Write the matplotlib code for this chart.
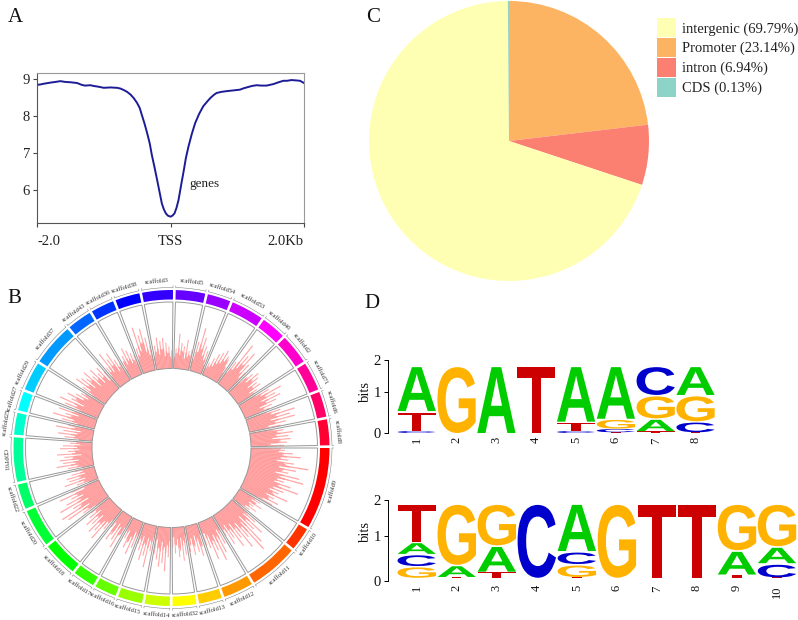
"""Four panel figure: TSS profile, circos track, feature pie and motif logos."""

import colorsys

import matplotlib

matplotlib.use("Agg")

import matplotlib.pyplot as plt
import numpy as np
from matplotlib.font_manager import FontProperties
from matplotlib.patches import PathPatch
from matplotlib.text import TextPath
from matplotlib.transforms import Affine2D

W, H = 798, 620

plt.rcParams["font.family"] = ["Liberation Serif", "DejaVu Serif"]

# panel A: profile around the TSS
profile_x = [-2.0, -1.95, -1.9, -1.8, -1.72, -1.65, -1.58, -1.5, -1.4, -1.33, -1.28, -1.2, -1.15, -1.08,
             -1.0, -0.9, -0.8, -0.75, -0.7, -0.65, -0.6, -0.55, -0.5, -0.46, -0.43, -0.39, -0.35, -0.31,
             -0.28, -0.24, -0.2, -0.16, -0.13, -0.1, -0.07, -0.04, 0.0, 0.03, 0.06, 0.09, 0.12, 0.16,
             0.2, 0.23, 0.27, 0.32, 0.37, 0.43, 0.49, 0.55, 0.6, 0.65, 0.69, 0.76, 0.84, 0.94, 1.04,
             1.1, 1.16, 1.22, 1.29, 1.36, 1.44, 1.54, 1.62, 1.69, 1.75, 1.81, 1.88, 1.94, 2.0]
profile_y = [8.84, 8.85, 8.87, 8.90, 8.92, 8.94, 8.92, 8.91, 8.89, 8.84, 8.82, 8.83, 8.81, 8.79,
             8.76, 8.77, 8.76, 8.74, 8.70, 8.65, 8.58, 8.48, 8.35, 8.21, 8.03, 7.80, 7.54, 7.25,
             6.95, 6.62, 6.27, 5.91, 5.64, 5.48, 5.37, 5.31, 5.28, 5.31, 5.37, 5.52, 5.73, 6.14,
             6.54, 6.86, 7.18, 7.52, 7.81, 8.06, 8.26, 8.39, 8.49, 8.57, 8.62, 8.65, 8.67, 8.69, 8.71,
             8.75, 8.78, 8.81, 8.83, 8.82, 8.82, 8.86, 8.91, 8.95, 8.95, 8.97, 8.96, 8.95, 8.89]
profile_yticks = [6, 7, 8, 9]
profile_xticks = [-2, 0, 2]
profile_xlabels = ["-2.0", "TSS", "2.0Kb"]

# panel B: scaffolds clockwise, starting at the red one
scaffold_names = ["scaffold9", "scaffold10", "scaffold11", "scaffold12", "scaffold13", "scaffold32",
                  "scaffold14", "scaffold15", "scaffold16", "scaffold17", "scaffold18", "scaffold20",
                  "scaffold22", "CDPF01", "scaffold25", "scaffold27", "scaffold29", "scaffold37",
                  "scaffold43", "scaffold36", "scaffold38", "scaffold3", "scaffold5", "scaffold54",
                  "scaffold53", "scaffold46", "scaffold2", "scaffold71", "scaffold6", "scaffold8"]
scaffold_sizes = [30, 8.5, 18, 11, 8.5, 8.7, 9.2, 9, 8, 8, 12.7, 14, 9.2, 16.3, 8,
                  7, 10.5, 15.5, 9, 8.5, 9, 11.3, 10.8, 8.5, 12, 9, 11, 10.5, 9.3, 9.5]
track_heights = [
    [30, 34, 28, 42, 33, 50, 31, 38, 27, 44, 36, 59, 30, 47, 34, 40, 28, 52, 33, 57, 31, 38, 29, 46,
     34, 55, 30, 41, 27, 37, 32, 48, 26, 35, 30, 41, 25, 36],
    [18, 25, 16, 22, 29, 15, 21, 17, 26, 14, 20, 12],
    [20, 32, 18, 44, 24, 36, 17, 50, 22, 57, 26, 38, 19, 48, 23, 34, 16, 42, 21, 30, 14, 35, 18, 24],
    [16, 30, 14, 38, 20, 45, 17, 33, 22, 41, 15, 28, 12, 24],
    [12, 24, 33, 15, 28, 11, 22, 30, 13, 20, 26],
    [9, 28, 14, 34, 11, 24, 30, 12, 18, 26, 10, 20],
    [14, 30, 18, 44, 20, 36, 15, 40, 22, 33, 13, 28],
    [12, 26, 16, 43, 14, 32, 20, 37, 13, 28, 17, 22],
    [14, 28, 12, 36, 18, 25, 31, 13, 22, 15],
    [13, 22, 37, 15, 30, 12, 26, 33, 14, 20],
    [14, 26, 18, 41, 20, 33, 24, 38, 17, 30, 21, 35, 15, 28, 19, 24],
    [16, 30, 24, 46, 20, 51, 28, 36, 18, 49, 25, 40, 21, 33, 26, 44, 17, 30],
    [10, 22, 14, 34, 12, 28, 16, 30, 11, 24, 13, 20],
    [12, 26, 16, 37, 18, 30, 14, 33, 20, 28, 11, 35, 17, 24, 13, 32, 15, 29, 12, 22, 16],
    [14, 28, 18, 35, 16, 30, 13, 38, 20, 26],
    [18, 34, 22, 44, 26, 32, 19, 40, 24],
    [20, 36, 24, 43, 18, 32, 28, 38, 21, 30, 17, 26, 22],
    [16, 28, 20, 38, 24, 34, 18, 30, 26, 36, 15, 27, 21, 33, 14, 25, 19, 30, 12, 22],
    [14, 24, 18, 39, 16, 30, 22, 35, 13, 26, 17, 20],
    [12, 20, 25, 15, 32, 18, 28, 14, 24, 16, 21],
    [15, 26, 18, 47, 22, 38, 30, 44, 20, 34, 16, 25],
    [14, 24, 18, 32, 15, 28, 20, 31, 13, 26, 16, 22, 12, 18],
    [12, 20, 16, 35, 14, 26, 18, 23, 11, 30, 13, 19, 15, 21],
    [12, 30, 20, 45, 24, 36, 18, 28, 14, 24, 10],
    [8, 14, 10, 20, 12, 26, 16, 29, 18, 33, 22, 28, 26, 18, 12],
    [14, 28, 20, 51, 24, 40, 30, 46, 22, 34, 18, 26],
    [16, 24, 30, 20, 35, 26, 32, 18, 28, 22, 30, 16, 24, 20],
    [20, 34, 24, 46, 28, 38, 22, 42, 26, 36, 18, 30, 21, 26],
    [22, 36, 26, 50, 30, 44, 24, 48, 28, 38, 20, 32],
    [24, 34, 28, 43, 26, 38, 22, 40, 30, 36, 20, 33],
]

# panel C: genomic features
feature_names = ["intergenic", "Promoter", "intron", "CDS"]
feature_percent = [69.79, 23.14, 6.94, 0.13]
feature_colors = ["#FFFFB3", "#FDB462", "#FB8072", "#8DD3C7"]
pie_order = [1, 2, 0, 3]

# panel D: motif logos, letters listed bottom to top
logo_top_letters = ["CTA", "G", "A", "T", "CTA", "TCGA", "TAGC", "TCGA"]
logo_top_bits = [[0.06, 0.54, 1.24], [1.84], [1.84], [1.84], [0.06, 0.25, 1.53],
                 [0.02, 0.1, 0.27, 1.45], [0.05, 0.35, 0.64, 0.8], [0.02, 0.3, 0.72, 0.8]]
logo_bottom_letters = ["GCAT", "TAG", "TAG", "C", "TGCA", "G", "T", "T", "TAG", "TCAG"]
logo_bottom_bits = [[0.29, 0.3, 0.3, 0.95], [0.02, 0.3, 1.52], [0.15, 0.65, 1.04], [1.84],
                    [0.02, 0.32, 0.32, 1.18], [1.84], [1.84], [1.84], [0.08, 0.6, 1.16],
                    [0.01, 0.35, 0.42, 1.06]]
logo_tick_pos = [0, 1.12, 2]
logo_tick_labels = ["0", "1", "2"]
letter_colors = {"A": "#00CC00", "C": "#0000CC", "G": "#FFB300", "T": "#CC0000"}


def px_axes(fig, left, top, right, bottom, **kwargs):
    return fig.add_axes([left / W, 1 - bottom / H, (right - left) / W, (bottom - top) / H], **kwargs)


def draw_profile(fig):
    ax = px_axes(fig, 37, 73, 304, 223)
    ax.plot(profile_x, profile_y, color="#1C1C96", lw=1.4)
    ax.set_xlim(-2, 2)
    ax.set_ylim(5.11, 9.16)
    ax.set_yticks(profile_yticks)
    ax.set_xticks(profile_xticks)
    ax.set_xticklabels(profile_xlabels)
    ax.tick_params(labelsize=10.5, length=3, width=0.8, color="#444444", labelcolor="#222222", pad=6)
    ax.tick_params(axis="y", pad=2)
    ticks = ax.get_xticklabels()
    ticks[0].set_ha("left")
    ticks[2].set_ha("right")
    for name, spine in ax.spines.items():
        spine.set_linewidth(0.8)
        spine.set_color("#555555" if name in ("left", "bottom") else "#999999")
    ax.text(0.29, 6.16, "genes", fontsize=9.5, color="#222222", va="center")


def draw_circos(fig):
    cx, cy = 171.5, 448
    ax = px_axes(fig, cx - 175, cy - 175, cx + 175, cy + 175, projection="polar")
    ax.set_theta_zero_location("N")
    ax.set_theta_direction(-1)
    ax.set_rlim(0, 175)
    ax.axis("off")

    inner, outer = 79.5, 146
    gap = (360 - sum(scaffold_sizes)) / len(scaffold_sizes)
    start = 90.0
    for i, (name, size, heights) in enumerate(zip(scaffold_names, scaffold_sizes, track_heights)):
        color = colorsys.hsv_to_rgb(i / len(scaffold_sizes), 1, 1)
        mid = start + size / 2
        ax.bar(np.radians(mid), 9.5, np.radians(size), bottom=148.5, color=color, lw=0)

        slots = np.linspace(start, start + size, len(heights) + 1)
        centers = (slots[:-1] + slots[1:]) / 2
        slot = np.radians(size / len(heights))
        # peaks are thin and pale, the packed lower part of the histogram is solid
        packed = np.convolve(heights, np.ones(3) / 3, mode="same")
        ax.bar(np.radians(centers), heights, slot * 0.75, bottom=inner, color="#FFA8A8", lw=0)
        ax.bar(np.radians(centers), np.minimum(packed, heights) * 0.95, slot, bottom=inner,
               color="#FF9C9C", lw=0)
        ax.bar(np.radians(mid), outer - inner, np.radians(size), bottom=inner,
               fill=False, edgecolor="#999999", lw=0.7)

        # thin scale arc outside the ring, with end ticks
        ends = np.radians([start, start + size])
        ax.plot(np.radians(np.linspace(start, start + size, 20)), [160.5] * 20, color="#777777", lw=0.35)
        ax.vlines(ends, 160.5, 162.5, color="#777777", lw=0.35)

        rot = 180 - mid if 90 < mid % 360 < 270 else -mid
        ax.text(np.radians(mid), 167, name, fontsize=4.6, color="#333333", rotation=rot,
                rotation_mode="anchor", ha="center", va="center")
        start += size + gap


def draw_pie(fig):
    ax = px_axes(fig, 369, 1, 649, 281)
    values = [feature_percent[i] for i in pie_order]
    colors = [feature_colors[i] for i in pie_order]
    wedges, _ = ax.pie(values, colors=colors, startangle=90, counterclock=False, radius=1)
    ax.set_xlim(-1, 1)
    ax.set_ylim(-1, 1)
    handles = [wedges[pie_order.index(i)] for i in range(len(feature_names))]
    labels = [f"{n} ({p:.2f}%)" for n, p in zip(feature_names, feature_percent)]
    fig.legend(handles, labels, loc="upper left", bbox_to_anchor=(655 / W, 1 - 16 / H), frameon=False,
               fontsize=10.5, handlelength=1.3, handleheight=1.62, labelspacing=0.06, handletextpad=0.42,
               borderpad=0.15, borderaxespad=0, labelcolor="#222222")


def draw_logo(fig, top, bottom, right, xmin, xmax, ymax, letters, bits, baseline, label_y):
    ax = px_axes(fig, 388, top, right, bottom)
    ax.set_xlim(xmin, xmax)
    ax.set_ylim(0, ymax)
    prop = FontProperties(family="Liberation Sans", weight="bold")
    for pos, (stack, values) in enumerate(zip(letters, bits), start=1):
        y = baseline
        for letter, value in zip(stack, values):
            path = TextPath((0, 0), letter, size=1, prop=prop)
            box = path.get_extents()
            gap = min(0.04, value * 0.12)
            trans = (Affine2D().translate(-box.x0, -box.y0)
                     .scale(0.96 / box.width, (value - gap) / box.height)
                     .translate(pos - 0.48, y) + ax.transData)
            ax.add_patch(PathPatch(path, transform=trans, fc=letter_colors[letter], lw=0))
            y += value
    for name in ("top", "right", "bottom"):
        ax.spines[name].set_visible(False)
    ax.spines["left"].set_bounds(0, 2)
    ax.spines["left"].set_linewidth(0.7)
    ax.set_yticks(logo_tick_pos)
    ax.set_yticklabels(logo_tick_labels)
    ax.set_xticks(range(1, len(letters) + 1))
    ax.tick_params(axis="y", labelsize=10.5, length=3, width=0.7, pad=2, labelcolor="#111111")
    ax.tick_params(axis="x", labelsize=9, length=0, pad=3, labelrotation=90, labelcolor="#111111")
    ax.set_ylabel("bits", fontsize=10.5, color="#111111")
    ax.yaxis.set_label_coords((365 - 388) / (right - 388), (bottom - label_y) / (bottom - top))
    ax.yaxis.label.set_va("center")
    ax.patch.set_visible(False)


def main():
    fig = plt.figure(figsize=(W / 100, H / 100), dpi=100)

    draw_circos(fig)
    draw_profile(fig)
    draw_pie(fig)
    draw_logo(fig, 358, 433, 725, 0.279, 8.74, 2.05, logo_top_letters, logo_top_bits, 0, 392)
    draw_logo(fig, 498, 581, 797, 0.282, 10.5, 2.05, logo_bottom_letters, logo_bottom_bits, 0.08, 531)

    for label, x, y in [("A", 15, 18), ("B", 14, 299), ("C", 373, 18), ("D", 372, 303)]:
        fig.text(x / W, 1 - y / H, label, fontsize=15, ha="center", va="center", color="#111111")

    fig.savefig("out.png", dpi=100)
    plt.close(fig)


if __name__ == "__main__":
    main()
